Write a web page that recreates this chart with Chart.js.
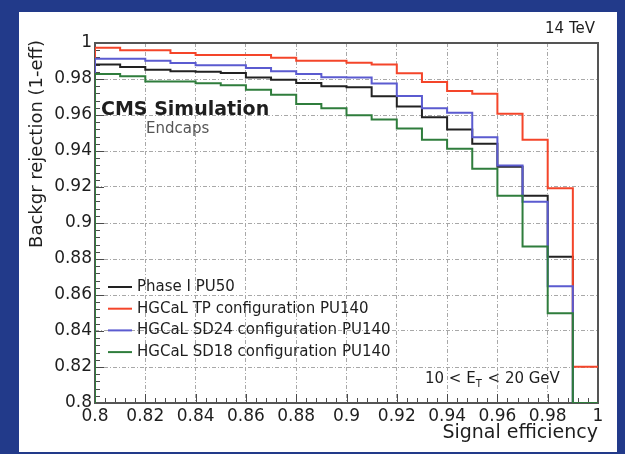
<!DOCTYPE html>
<html lang="en">
<head>
<meta charset="UTF-8">
<title>Backgr rejection vs signal efficiency</title>
<script src="https://cdn.jsdelivr.net/npm/chart.js"></script>
<style>
    body {
        margin: 0;
        background: #223a8a;
        width: 625px;
        height: 454px;
        overflow: hidden;
    }
    .panel {
        position: absolute;
        left: 19px;
        top: 12px;
        width: 598px;
        height: 440px;
        background: #fff;
    }
</style>
</head>
<body>
<div class="panel"><canvas id="roc" width="598" height="440"></canvas></div>
<script>
// bin edges of the efficiency histogram (20 bins of 0.01)
const binEdges = [0.80, 0.81, 0.82, 0.83, 0.84, 0.85, 0.86, 0.87, 0.88, 0.89, 0.90,
                  0.91, 0.92, 0.93, 0.94, 0.95, 0.96, 0.97, 0.98, 0.99, 1.00];

const seriesLabels = ['Phase I PU50', 'HGCaL TP configuration PU140',
                      'HGCaL SD24 configuration PU140', 'HGCaL SD18 configuration PU140'];
const seriesColors = ['#222222', '#f4452a', '#5b5bd0', '#2f7d3c'];

// background rejection per bin
const phase1PU50 = [0.9880, 0.9867, 0.9852, 0.9843, 0.9840, 0.9833, 0.9809, 0.9796, 0.9778, 0.9760,
                    0.9754, 0.9704, 0.9647, 0.9587, 0.9520, 0.9440, 0.9313, 0.9151, 0.8813, 0.8000];
const tpPU140 = [0.9974, 0.9960, 0.9960, 0.9945, 0.9933, 0.9933, 0.9933, 0.9918, 0.9902, 0.9902,
                 0.9890, 0.9880, 0.9832, 0.9784, 0.9734, 0.9718, 0.9607, 0.9463, 0.9193, 0.8202];
const sd24PU140 = [0.9912, 0.9912, 0.9902, 0.9889, 0.9877, 0.9877, 0.9861, 0.9843, 0.9828, 0.9810,
                   0.9808, 0.9775, 0.9705, 0.9638, 0.9612, 0.9476, 0.9319, 0.9118, 0.8648, 0.8000];
const sd18PU140 = [0.9828, 0.9815, 0.9786, 0.9786, 0.9777, 0.9765, 0.9740, 0.9712, 0.9661, 0.9637,
                   0.9599, 0.9575, 0.9525, 0.9462, 0.9413, 0.9301, 0.9151, 0.8869, 0.8498, 0.8000];

const xTickStep = 0.02;
const yTickStep = 0.02;
const yMin = 0.8, yMax = 1.0;

const FONT = '"DejaVu Sans", "Liberation Sans", Arial, sans-serif';

// histogram outline: rise from the axis at the first edge, hold each bin value until the next edge
function histPoints(values) {
    const pts = [{x: binEdges[0], y: yMin}];
    values.forEach((v, i) => pts.push({x: binEdges[i], y: v}));
    pts.push({x: binEdges[binEdges.length - 1], y: values[values.length - 1]});
    return pts;
}

const fmt = v => String(Number(v.toFixed(2)));

// frame and inner tick marks, ROOT style
const framePlugin = {
    id: 'frame',
    beforeDatasetsDraw(chart) {
        const {ctx, chartArea: a, scales: {x, y}} = chart;
        ctx.save();
        ctx.strokeStyle = '#4a4a4a';
        ctx.lineWidth = 1;
        for (let i = 0; i <= 50; i++) {
            const v = 0.8 + i * 0.004;
            const len = i % 5 === 0 ? 9 : 5;
            const px = Math.round(x.getPixelForValue(v)) + 0.5;
            const py = Math.round(y.getPixelForValue(v)) + 0.5;
            ctx.beginPath();
            ctx.moveTo(px, a.bottom);
            ctx.lineTo(px, a.bottom - len);
            ctx.moveTo(a.left, py);
            ctx.lineTo(a.left + len, py);
            ctx.stroke();
        }
        ctx.strokeStyle = '#555';
        ctx.lineWidth = 2;
        ctx.strokeRect(a.left, a.top, a.right - a.left, a.bottom - a.top);
        ctx.restore();
    },
    afterDraw(chart) {
        const {ctx, data} = chart;
        ctx.save();
        ctx.fillStyle = '#1e1e1e';
        ctx.textBaseline = 'middle';

        ctx.textAlign = 'right';
        ctx.font = '15px ' + FONT;
        ctx.fillText('14 TeV', 576, 17);

        ctx.textAlign = 'left';
        ctx.font = 'bold 19px ' + FONT;
        ctx.fillText('CMS Simulation', 82, 98);
        ctx.fillStyle = '#555';
        ctx.font = '15px ' + FONT;
        ctx.fillText('Endcaps', 127, 117);

        // legend
        ctx.fillStyle = '#1e1e1e';
        data.datasets.forEach((ds, i) => {
            const yy = 275 + i * 21.7;
            ctx.strokeStyle = ds.borderColor;
            ctx.lineWidth = 2;
            ctx.beginPath();
            ctx.moveTo(89, yy);
            ctx.lineTo(113, yy);
            ctx.stroke();
            ctx.fillText(ds.label, 118, yy);
        });

        // 10 < E_T < 20 GeV
        let tx = 406;
        const ty = 367;
        ctx.font = '15px ' + FONT;
        ctx.fillText('10 < E', tx, ty);
        tx += ctx.measureText('10 < E').width;
        ctx.font = '10px ' + FONT;
        ctx.fillText('T', tx, ty + 5);
        tx += ctx.measureText('T').width + 1;
        ctx.font = '15px ' + FONT;
        ctx.fillText(' < 20 GeV', tx, ty);

        // axis titles
        ctx.textAlign = 'right';
        ctx.font = '19px ' + FONT;
        ctx.fillText('Signal efficiency', 579, 421);
        ctx.translate(18, 28);
        ctx.rotate(-Math.PI / 2);
        ctx.font = '18px ' + FONT;
        ctx.fillText('Backgr rejection (1-eff)', 0, 0);
        ctx.restore();
    }
};

const seriesValues = [phase1PU50, tpPU140, sd24PU140, sd18PU140];

new Chart(document.getElementById('roc'), {
    type: 'line',
    data: {
        datasets: seriesValues.map((vals, i) => ({
            label: seriesLabels[i],
            data: histPoints(vals),
            borderColor: seriesColors[i],
            borderWidth: 2,
            pointRadius: 0,
            stepped: 'before',
            fill: false,
            order: seriesValues.length - i
        }))
    },
    options: {
        responsive: false,
        animation: false,
        layout: {padding: {left: 0, right: 19, top: 31, bottom: 0}},
        plugins: {legend: {display: false}, tooltip: {enabled: false}},
        scales: {
            x: {
                type: 'linear',
                min: 0.8,
                max: 1,
                afterFit: s => { s.height = 49; },
                ticks: {
                    stepSize: xTickStep,
                    autoSkip: false,
                    maxRotation: 0,
                    padding: 3,
                    color: '#1e1e1e',
                    font: {family: FONT, size: 17},
                    callback: fmt
                },
                grid: {color: '#a8a8a8', lineWidth: 1, drawTicks: false},
                border: {display: false, dash: [4, 2, 1, 2]}
            },
            y: {
                type: 'linear',
                min: yMin,
                max: yMax,
                afterFit: s => { s.width = 76; },
                ticks: {
                    stepSize: yTickStep,
                    autoSkip: false,
                    padding: 3,
                    color: '#1e1e1e',
                    font: {family: FONT, size: 17},
                    callback: fmt
                },
                grid: {color: '#a8a8a8', lineWidth: 1, drawTicks: false},
                border: {display: false, dash: [4, 2, 1, 2]}
            }
        }
    },
    plugins: [framePlugin]
});
</script>
</body>
</html>
